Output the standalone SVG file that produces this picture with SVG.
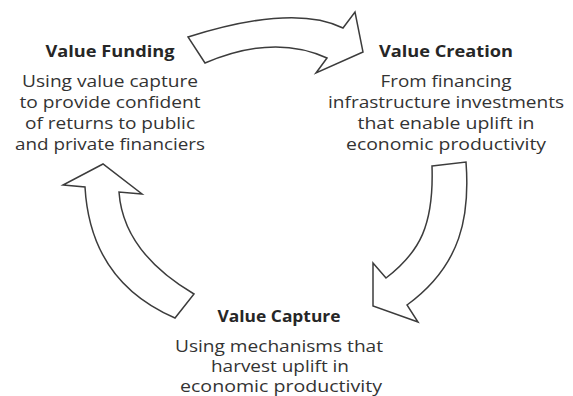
<svg xmlns="http://www.w3.org/2000/svg" width="573" height="396" viewBox="0 0 573 396">
  <style>
    .arrow { fill: #ffffff; stroke: #3c3c3c; stroke-width: 1.5; stroke-linejoin: miter; }
    .title { font-family: "Open Sans", "Liberation Sans", sans-serif; font-size: 16px; font-weight: bold; fill: #262626; text-anchor: middle; }
    .body { font-family: "Open Sans", "Liberation Sans", sans-serif; font-size: 16px; fill: #333333; text-anchor: middle; }
  </style>
  <rect width="573" height="396" fill="#ffffff"/>

  <!-- curved block arrows forming the cycle -->
  <g id="connectors">
    <!-- Funding to Creation -->
    <path class="arrow" d="M188,37 Q294.5,3.5 343,28 L355,12 L363,52 L316,73 L327,58 Q274,33.5 205,63 Z"/>
    <!-- Creation to Capture -->
    <path class="arrow" d="M432,166 L466,162 C470,215 462,265 407,305 L418,322 L373,306 L373,263 L386,278 C420,252 434,225 432,166 Z"/>
    <!-- Capture to Funding -->
    <path class="arrow" d="M103,164 L63,185 L85,187 C88,240 110,290 175,318 L194,294 C150,268 122,235 119,192 L142,194 Z"/>
  </g>

  <g id="value-funding">
    <text class="title" x="110" y="57" textLength="129" lengthAdjust="spacingAndGlyphs">Value Funding</text>
    <text class="body" x="110" y="87" textLength="176" lengthAdjust="spacingAndGlyphs">Using value capture</text>
    <text class="body" x="110" y="108" textLength="181" lengthAdjust="spacingAndGlyphs">to provide confident</text>
    <text class="body" x="110" y="129" textLength="170" lengthAdjust="spacingAndGlyphs">of returns to public</text>
    <text class="body" x="110" y="150" textLength="190" lengthAdjust="spacingAndGlyphs">and private financiers</text>
  </g>

  <g id="value-creation">
    <text class="title" x="446" y="57" textLength="134" lengthAdjust="spacingAndGlyphs">Value Creation</text>
    <text class="body" x="446" y="87" textLength="131" lengthAdjust="spacingAndGlyphs">From financing</text>
    <text class="body" x="446" y="108" textLength="236" lengthAdjust="spacingAndGlyphs">infrastructure investments</text>
    <text class="body" x="446" y="129" textLength="177" lengthAdjust="spacingAndGlyphs">that enable uplift in</text>
    <text class="body" x="446" y="150" textLength="200" lengthAdjust="spacingAndGlyphs">economic productivity</text>
  </g>

  <g id="value-capture">
    <text class="title" x="279" y="322" textLength="123" lengthAdjust="spacingAndGlyphs">Value Capture</text>
    <text class="body" x="279" y="352" textLength="208" lengthAdjust="spacingAndGlyphs">Using mechanisms that</text>
    <text class="body" x="280" y="372" textLength="138" lengthAdjust="spacingAndGlyphs">harvest uplift in</text>
    <text class="body" x="281" y="392" textLength="202" lengthAdjust="spacingAndGlyphs">economic productivity</text>
  </g>
</svg>
